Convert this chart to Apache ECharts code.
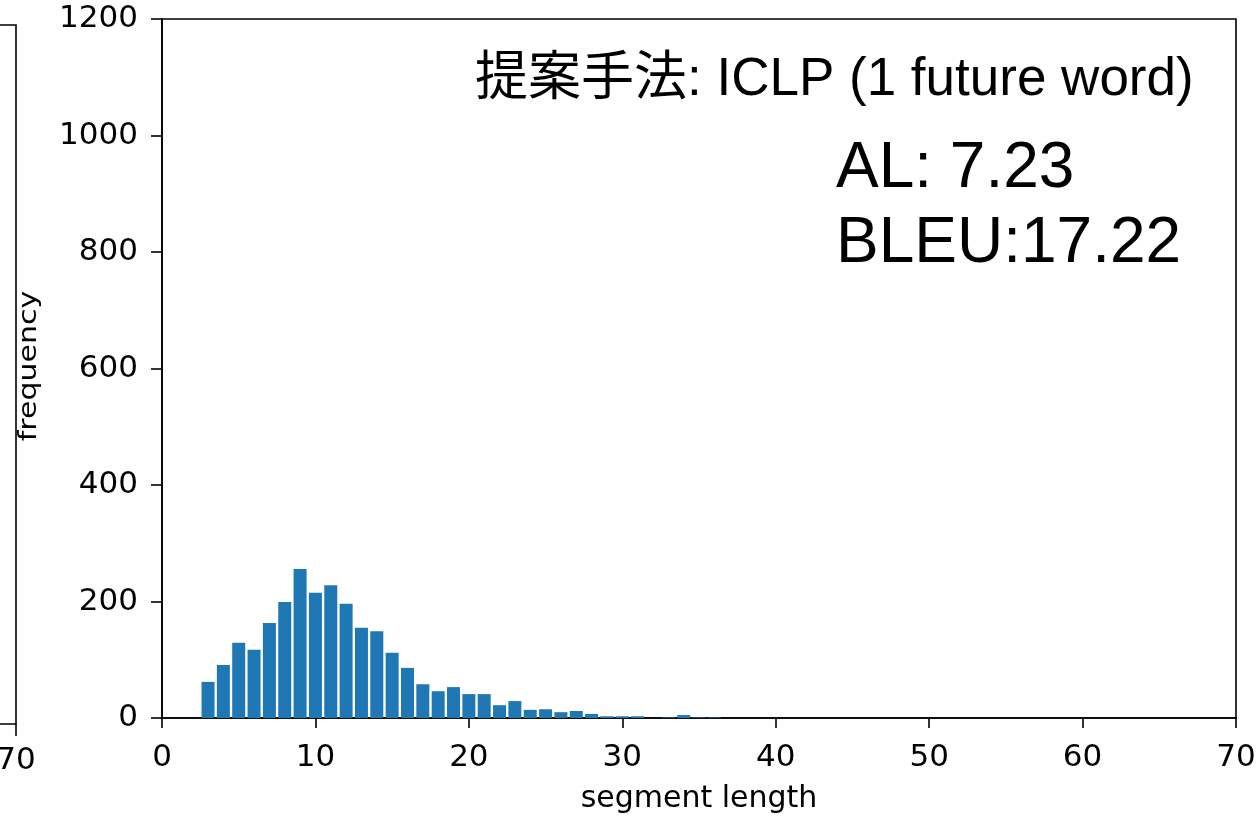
<!DOCTYPE html>
<html>
<head>
<meta charset="utf-8">
<style>html,body{margin:0;padding:0;background:#fff}#c{width:1260px;height:816px}</style>
<script src="https://cdn.jsdelivr.net/npm/echarts@6/dist/echarts.min.js"></script>
</head>
<body>
<div id="c"></div>
<script>
const segmentLengths = [3,4,5,6,7,8,9,10,11,12,13,14,15,16,17,18,19,20,21,22,23,24,25,26,27,28,29,30,31,32,33,34,35,36];
const frequencies    = [62,91,129,117,163,199,256,215,228,196,155,149,112,86,58,46,53,41,41,22,29,14,15,10,12,7,3,3,3,0,1,5,1,1];
const xTicks = {min:0, max:70, interval:10};
const yTicks = {min:0, max:1200, interval:200};
const titleText = '提案手法: ICLP (1 future word)';
const alText = 'AL: 7.23';
const bleuText = 'BLEU:17.22';
const xName = 'segment length';
const yName = 'frequency';
const leftPanelLabel = '70';

const chart = echarts.init(document.getElementById('c'), null, {renderer:'canvas'});
const tickFont = {fontFamily:'DejaVu Sans', fontSize:31, color:'#000'};
chart.setOption({
  animation:false,
  grid:{left:162, right:24, top:19, bottom:98, show:true, borderColor:'#000', borderWidth:1.6,
        backgroundColor:'transparent', containLabel:false, outerBoundsMode:'none'},
  xAxis:{
    type:'value', min:xTicks.min, max:xTicks.max, interval:xTicks.interval,
    name:xName, nameLocation:'middle', nameGap:66,
    nameTextStyle:{fontFamily:'DejaVu Sans', fontSize:30, color:'#000'},
    axisLine:{show:true, lineStyle:{color:'#000', width:1.6}},
    axisTick:{show:true, length:10, lineStyle:{color:'#000', width:1.6}},
    axisLabel:Object.assign({margin:24, formatter:v=>String(v)}, tickFont),
    splitLine:{show:false}
  },
  yAxis:{
    type:'value', min:yTicks.min, max:yTicks.max, interval:yTicks.interval,
    axisLine:{show:true, lineStyle:{color:'#000', width:1.6}},
    axisTick:{show:true, length:11, lineStyle:{color:'#000', width:1.6}},
    axisLabel:Object.assign({margin:24, formatter:v=>String(v)}, tickFont),
    splitLine:{show:false}
  },
  series:[{
    type:'bar',
    data:segmentLengths.map((x,i)=>[x, frequencies[i]]),
    barWidth:13,
    itemStyle:{color:'#1f77b4'}
  }],
  graphic:[
    {type:'text', left:475, top:54, style:{text:titleText, font:'53px "Liberation Sans", "Noto Sans CJK JP", sans-serif', fill:'#000'}},
    {type:'text', left:836, top:137, style:{text:alText, font:'64px "Liberation Sans", sans-serif', fill:'#000'}},
    {type:'text', left:836, top:212, style:{text:bleuText, font:'64px "Liberation Sans", sans-serif', fill:'#000'}},
    {type:'text', x:29, y:366, rotation:Math.PI/2, scaleY:0.85,
      style:{text:yName, font:'30px "DejaVu Sans"', fill:'#000', align:'center', verticalAlign:'middle'}},
    {type:'polyline', shape:{points:[[0,25],[16,25],[16,724],[0,724]]}, style:{stroke:'#000', lineWidth:1.6, fill:null}},
    {type:'line', shape:{x1:16, y1:724, x2:16, y2:736}, style:{stroke:'#000', lineWidth:1.6}},
    {type:'text', x:16, y:761, style:{text:leftPanelLabel, font:'31px "DejaVu Sans"', fill:'#000', align:'center', verticalAlign:'middle'}}
  ]
});
</script>
</body>
</html>
